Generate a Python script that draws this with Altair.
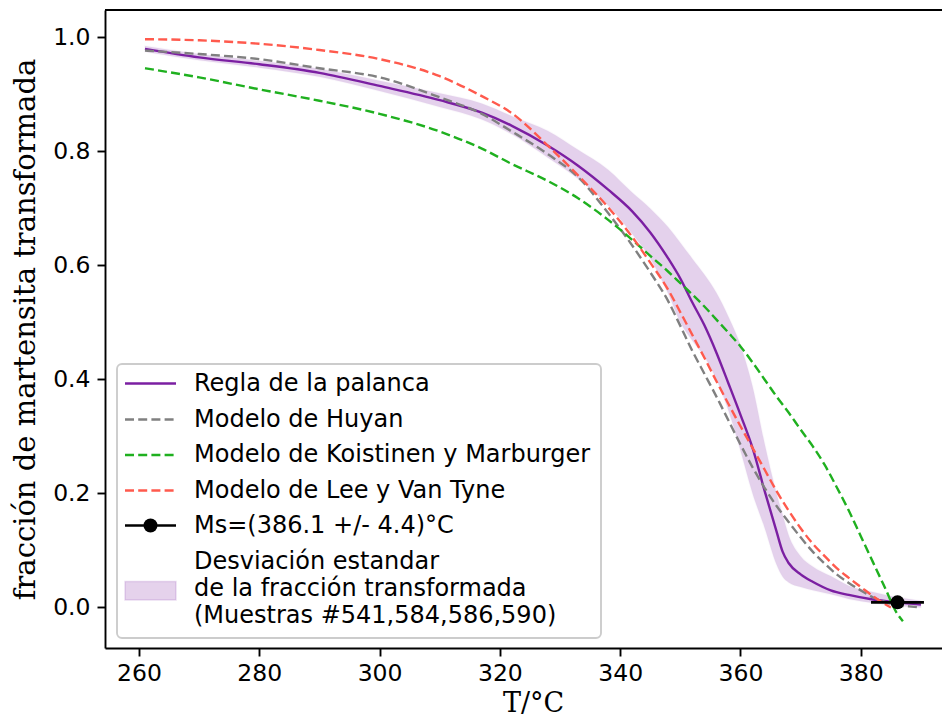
import altair as alt
import pandas as pd

# ---------------- data ----------------
T_regla = [261, 270, 280, 290, 300, 310, 317, 322, 328, 333, 338, 342, 345, 348, 350,
           352, 354, 356, 358, 360, 362, 364, 366, 367, 368, 370, 372, 375, 378, 382, 386, 390]
f_regla = [0.980, 0.965, 0.953, 0.938, 0.915, 0.890, 0.868, 0.845, 0.810, 0.775, 0.733, 0.695,
           0.658, 0.612, 0.577, 0.535, 0.495, 0.447, 0.393, 0.338, 0.280, 0.205, 0.133, 0.098,
           0.078, 0.058, 0.045, 0.030, 0.022, 0.014, 0.009, 0.005]
f_lo = [0.975, 0.960, 0.947, 0.931, 0.906, 0.878, 0.856, 0.830, 0.789, 0.752, 0.705, 0.655,
        0.612, 0.550, 0.500, 0.468, 0.440, 0.400, 0.345, 0.275, 0.200, 0.140, 0.075, 0.054,
        0.044, 0.036, 0.030, 0.023, 0.015, 0.008, 0.003, 0.000]
f_hi = [0.985, 0.971, 0.959, 0.945, 0.924, 0.902, 0.884, 0.862, 0.836, 0.803, 0.768, 0.728,
        0.700, 0.667, 0.640, 0.612, 0.584, 0.552, 0.510, 0.460, 0.388, 0.288, 0.200, 0.163,
        0.127, 0.090, 0.072, 0.055, 0.038, 0.027, 0.018, 0.012]

T_huyan = [261, 270, 280, 290, 300, 310, 317, 322, 328, 333, 338, 342, 345, 348, 350, 352, 354,
           356, 358, 360, 362, 364, 366, 368, 370, 372, 374, 376, 378, 380, 382, 384, 386, 388, 390]
f_huyan = [0.977, 0.971, 0.962, 0.946, 0.930, 0.895, 0.866, 0.835, 0.795, 0.755, 0.692, 0.635,
           0.588, 0.537, 0.494, 0.450, 0.410, 0.370, 0.328, 0.286, 0.246, 0.210, 0.178, 0.150,
           0.123, 0.098, 0.077, 0.058, 0.043, 0.030, 0.018, 0.010, 0.004, 0.002, 0.000]

T_km = [261, 270, 280, 290, 300, 310, 317, 322, 328, 333, 338, 342, 345, 348, 350, 352, 354,
        356, 358, 360, 362, 364, 366, 368, 370, 372, 374, 376, 378, 380, 382, 384, 386, 387]
f_km = [0.946, 0.930, 0.909, 0.889, 0.866, 0.835, 0.805, 0.778, 0.748, 0.718, 0.680, 0.645,
        0.617, 0.589, 0.569, 0.549, 0.528, 0.505, 0.482, 0.458, 0.430, 0.400, 0.370, 0.342,
        0.312, 0.283, 0.250, 0.211, 0.170, 0.125, 0.080, 0.035, -0.010, -0.024]

T_lee = [261, 270, 280, 290, 300, 310, 317, 322, 328, 333, 338, 342, 345, 348, 350, 352, 354,
         356, 358, 360, 362, 364, 366, 368, 370, 372, 374, 376, 378, 380, 382, 384, 385]
f_lee = [0.997, 0.995, 0.989, 0.978, 0.962, 0.932, 0.897, 0.867, 0.810, 0.758, 0.702, 0.650,
         0.605, 0.557, 0.518, 0.478, 0.438, 0.397, 0.357, 0.318, 0.280, 0.242, 0.204, 0.170,
         0.139, 0.112, 0.090, 0.069, 0.052, 0.036, 0.020, 0.006, 0.000]

ms_T = 386.1
ms_err = 4.4
ms_f = 0.009

series_labels = ["Regla de la palanca", "Modelo de Huyan", "Modelo de Koistinen y Marburger",
                 "Modelo de Lee y Van Tyne", f"Ms=({ms_T} +/- {ms_err})°C"]
band_label = ["Desviación estandar", "de la fracción transformada", "(Muestras #541,584,586,590)"]

x_ticks = [260, 280, 300, 320, 340, 360, 380]
y_ticks = [0.0, 0.2, 0.4, 0.6, 0.8, 1.0]

# ---------------- styling ----------------
PURPLE = "#7b1fa2"
GRAY = "#808080"
GREEN = "#1fb01f"
RED = "#ff5a4d"
LW = 2.4
DASH = [9, 4.2]
FS = 23.5
LFS = 24
W, H = 837, 638
INTERP = "monotone"

xs = alt.Scale(domain=[254.35, 393.5], nice=False, zero=False)
ys = alt.Scale(domain=[-0.0711, 1.0482], nice=False, zero=False)

x_axis = alt.Axis(values=x_ticks, format="d", title="T/°C", grid=False,
                  labelFont="DejaVu Sans", labelFontSize=FS, labelColor="black",
                  labelPadding=5, tickSize=8, tickWidth=1.9, tickColor="black",
                  domainColor="black", domainWidth=1.9,
                  titleFont="DejaVu Serif", titleFontSize=27, titleFontWeight="normal",
                  titleColor="black", titleX=428, titleY=63, titleBaseline="alphabetic",
                  titleAlign="center")
y_axis = alt.Axis(values=y_ticks, format=".1f", title="fracción de martensita transformada",
                  grid=False, labelFont="DejaVu Sans", labelFontSize=FS, labelColor="black",
                  labelPadding=7, tickSize=8, tickWidth=1.9, tickColor="black",
                  domainColor="black", domainWidth=1.9,
                  titleFont="DejaVu Serif", titleFontSize=29, titleFontWeight="normal",
                  titleColor="black", titleX=-80, titleY=319, titleAngle=-90,
                  titleBaseline="middle", titleAlign="center")


def X(field):
    return alt.X(f"{field}:Q", scale=xs, axis=x_axis)


def Y(field):
    return alt.Y(f"{field}:Q", scale=ys, axis=y_axis)


df_regla = pd.DataFrame({"T": T_regla, "f": f_regla, "lo": f_lo, "hi": f_hi})
df_huyan = pd.DataFrame({"T": T_huyan, "f": f_huyan})
df_km = pd.DataFrame({"T": T_km, "f": f_km})
df_lee = pd.DataFrame({"T": T_lee, "f": f_lee})
df_ms = pd.DataFrame({"T": [ms_T], "f": [ms_f], "T1": [ms_T - ms_err], "T2": [ms_T + ms_err]})

band = alt.Chart(df_regla).mark_area(color=PURPLE, opacity=0.2, stroke=PURPLE,
                                     strokeOpacity=0.15, strokeWidth=1.5,
                                     interpolate=INTERP).encode(
    x=X("T"), y=Y("lo"), y2="hi")
regla = alt.Chart(df_regla).mark_line(color=PURPLE, strokeWidth=LW, interpolate=INTERP).encode(
    x=X("T"), y=Y("f"))
huyan = alt.Chart(df_huyan).mark_line(color=GRAY, strokeWidth=LW, strokeDash=DASH,
                                      interpolate=INTERP).encode(x=X("T"), y=Y("f"))
km = alt.Chart(df_km).mark_line(color=GREEN, strokeWidth=LW, strokeDash=DASH,
                                interpolate=INTERP).encode(x=X("T"), y=Y("f"))
lee = alt.Chart(df_lee).mark_line(color=RED, strokeWidth=LW, strokeDash=DASH,
                                  interpolate=INTERP).encode(x=X("T"), y=Y("f"))
ms_bar = alt.Chart(df_ms).mark_rule(color="black", strokeWidth=2.6).encode(
    x=X("T1"), x2="T2", y=Y("f"))
ms_pt = alt.Chart(df_ms).mark_point(filled=True, color="black", opacity=1, size=196,
                                    shape="circle").encode(x=X("T"), y=Y("f"))

one = pd.DataFrame({"k": [0]})
top_spine = alt.Chart(one).mark_rule(color="black", strokeWidth=1.9).encode(
    x=alt.value(0), x2=alt.value(W), y=alt.value(0))

# ---------------- legend ----------------
LX0, LX1, LY0, LY1 = 12, 496, 354, 628
SX0, SX1, TX = 20, 71, 89
row_y = [373.5, 409.5, 445, 480.5, 515.5]
band_y = [552, 579, 606]

legend_layers = [alt.Chart(one).mark_rect(fill="white", fillOpacity=0.8, stroke="#cccccc",
                                          strokeWidth=1.9, cornerRadius=5).encode(
    x=alt.value(LX0), x2=alt.value(LX1), y=alt.value(LY0), y2=alt.value(LY1))]
sym_styles = [(PURPLE, None), (GRAY, DASH), (GREEN, DASH), (RED, DASH), ("black", None)]
for (col, dash), lab, yy in zip(sym_styles, series_labels, row_y):
    kw = dict(color=col, strokeWidth=LW if col != "black" else 2.6)
    if dash:
        kw["strokeDash"] = dash
    legend_layers.append(alt.Chart(one).mark_rule(**kw).encode(
        x=alt.value(SX0), x2=alt.value(SX1), y=alt.value(yy)))
    legend_layers.append(alt.Chart(one).mark_text(
        text=lab, font="DejaVu Sans", fontSize=LFS, align="left", baseline="middle",
        color="black").encode(x=alt.value(TX), y=alt.value(yy)))
legend_layers.append(alt.Chart(one).mark_point(filled=True, color="black", opacity=1, size=196,
                                               shape="circle").encode(
    x=alt.value((SX0 + SX1) / 2), y=alt.value(row_y[4])))
legend_layers.append(alt.Chart(one).mark_rect(fill=PURPLE, fillOpacity=0.2, stroke=PURPLE,
                                              strokeOpacity=0.15, strokeWidth=1.5).encode(
    x=alt.value(SX0), x2=alt.value(SX1), y=alt.value(571.5), y2=alt.value(590)))
for lab, yy in zip(band_label, band_y):
    legend_layers.append(alt.Chart(one).mark_text(
        text=lab, font="DejaVu Sans", fontSize=LFS, align="left", baseline="middle",
        color="black").encode(x=alt.value(TX), y=alt.value(yy)))

chart = alt.layer(band, regla, huyan, km, lee, ms_bar, ms_pt, top_spine,
                  *legend_layers).properties(
    width=W, height=H,
    autosize=alt.AutoSizeParams(type="none"),
    padding={"left": 97, "top": 2, "right": 0, "bottom": 69},
    background="white",
).configure_view(strokeWidth=0)

chart.save("out.html", embed_options={"renderer": "svg", "actions": False})
